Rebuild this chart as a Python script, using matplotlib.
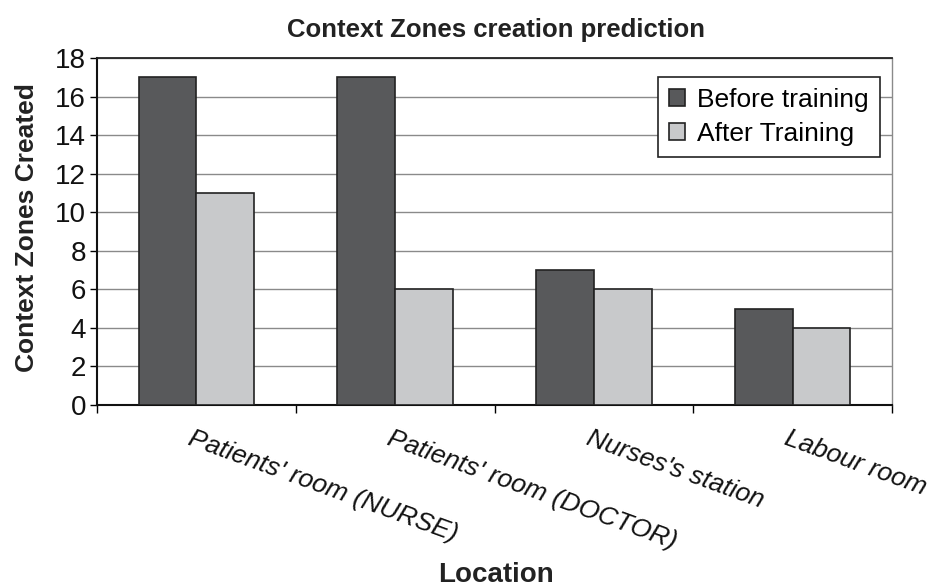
import matplotlib
matplotlib.use("Agg")
import matplotlib.pyplot as plt
import numpy as np

plt.rcParams['font.family'] = ['Liberation Sans', 'DejaVu Sans']

locations = ["Patients' room (NURSE)", "Patients' room (DOCTOR)",
             "Nurses's station", "Labour room"]
before_training = [17, 17, 7, 5]
after_training = [11, 6, 6, 4]
series_names = ["Before training", "After Training"]
y_ticks = list(range(0, 19, 2))

fig = plt.figure(figsize=(9.33, 5.87), dpi=100)
ax = fig.add_axes([97 / 933, 1 - 405 / 587, (892 - 97) / 933, (405 - 58) / 587])

x = np.arange(len(locations))
w = 0.29
dark = '#58595b'
light = '#c8c9cb'
edge = '#222222'
ax.bar(x - w / 2, before_training, w, color=dark, edgecolor=edge, linewidth=1.2,
       label=series_names[0], zorder=3)
ax.bar(x + w / 2, after_training, w, color=light, edgecolor=edge, linewidth=1.2,
       label=series_names[1], zorder=3)

ax.set_xlim(-0.5, len(locations) - 0.5)
ax.set_ylim(0, 18)
ax.set_yticks(y_ticks)
ax.tick_params(axis='y', labelsize=20, length=5, width=1, direction='out', pad=3,
               labelcolor='#111111')
ax.yaxis.grid(True, color='#8a8a8a', linewidth=1, zorder=0)

# category ticks at boundaries, labels at centres
ax.set_xticks(x)
ax.set_xticklabels([])
ax.set_xticks(np.arange(-0.5, len(locations)), minor=True)
ax.tick_params(axis='x', which='major', length=0)
ax.tick_params(axis='x', which='minor', length=6, width=1, direction='out')
for xi, lab in zip(x, locations):
    ax.annotate(lab, xy=(xi, 0), xycoords=('data', 'axes fraction'),
                xytext=(-5, -23.5), textcoords='offset points',
                rotation=-20, rotation_mode='anchor', ha='left', va='center',
                fontsize=19, style='italic', color='#111111')

for s in ['left', 'bottom']:
    ax.spines[s].set_color('#111111')
    ax.spines[s].set_linewidth(1.5)
ax.spines['top'].set_color('#222222')
ax.spines['top'].set_linewidth(1.3)
ax.spines['right'].set_color('#8a8a8a')
ax.spines['right'].set_linewidth(1)

fig.text(496 / 933, 1 - 30 / 587, "Context Zones creation prediction",
         ha='center', va='center', fontsize=18.5, fontweight='bold', color='#222222')
fig.text(27 / 933, 1 - 228 / 587, "Context Zones Created", rotation=90,
         ha='center', va='center', fontsize=19, fontweight='bold', color='#222222')
fig.text(496 / 933, 1 - 575 / 587, "Location",
         ha='center', va='center', fontsize=20, fontweight='bold', color='#222222')

leg = ax.legend(loc='upper left', bbox_to_anchor=(658 / 933, 1 - 77 / 587),
                bbox_transform=fig.transFigure, fontsize=19, frameon=True,
                fancybox=False, framealpha=1, edgecolor='#222222',
                handlelength=0.6, handleheight=0.6, handletextpad=0.45,
                borderpad=0.42, labelspacing=0.36, borderaxespad=0)
leg.get_frame().set_linewidth(1.2)

fig.savefig('out.png', dpi=100, facecolor='white')
